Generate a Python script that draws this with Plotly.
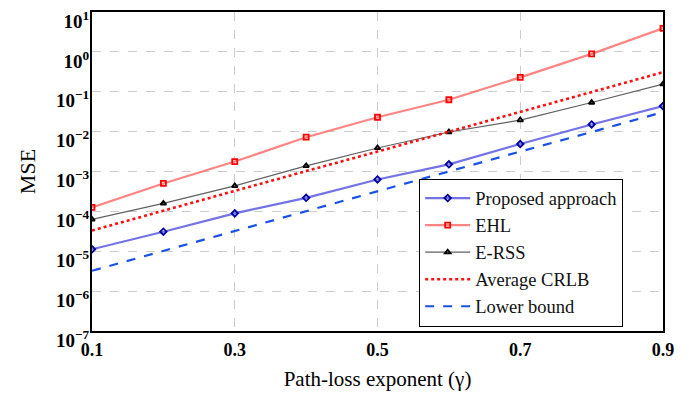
import plotly.graph_objects as go

gamma = [0.1, 0.2, 0.3, 0.4, 0.5, 0.6, 0.7, 0.8, 0.9]
# log10(MSE) values
log_proposed = [-4.95, -4.51, -4.05, -3.66, -3.20, -2.82, -2.31, -1.82, -1.36]
log_ehl = [-3.90, -3.30, -2.75, -2.14, -1.64, -1.20, -0.64, -0.05, 0.59]
log_erss = [-4.20, -3.80, -3.36, -2.86, -2.41, -2.01, -1.71, -1.27, -0.81]
log_crlb = [-4.48, -3.98, -3.49, -2.99, -2.50, -2.00, -1.50, -1.01, -0.51]
log_lower = [-5.49, -4.99, -4.50, -4.00, -3.50, -3.00, -2.50, -2.01, -1.51]

x_ticks = [0.1, 0.3, 0.5, 0.7, 0.9]
y_exps = [-7, -6, -5, -4, -3, -2, -1, 0, 1]

def tp(v):
    return [10 ** a for a in v]

FONT = "Liberation Serif, Times New Roman, serif"

fig = go.Figure()
fig.add_trace(go.Scatter(
    x=gamma, y=tp(log_proposed), name="Proposed approach", mode="lines+markers",
    line=dict(color="rgba(90,90,225,0.85)", width=2.2),
    marker=dict(symbol="diamond-open", size=5, color="#0000a0", line=dict(width=1.8, color="#0000a0"))))
fig.add_trace(go.Scatter(
    x=gamma, y=tp(log_ehl), name="EHL", mode="lines+markers",
    line=dict(color="rgba(255,110,110,0.85)", width=2.2),
    marker=dict(symbol="square-open", size=5, color="#ff0000", line=dict(width=1.8, color="#ff0000"))))
fig.add_trace(go.Scatter(
    x=gamma, y=tp(log_erss), name="E-RSS", mode="lines+markers",
    line=dict(color="#606060", width=1.2),
    marker=dict(symbol="triangle-up-open", size=5, color="#000000", line=dict(width=1.8, color="#000000"))))
fig.add_trace(go.Scatter(
    x=gamma, y=tp(log_crlb), name="Average CRLB", mode="lines",
    line=dict(color="#ff1010", width=2.6, dash="dot")))
fig.add_trace(go.Scatter(
    x=gamma, y=tp(log_lower), name="Lower bound", mode="lines",
    line=dict(color="#1a50e6", width=2.2, dash="dash")))

fig.update_layout(
    width=691, height=403,
    margin=dict(l=92, r=28, t=8, b=72),
    paper_bgcolor="white", plot_bgcolor="white",
    font=dict(family=FONT, color="black"),
    showlegend=True,
    legend=dict(
        x=0.573, y=0.014, xanchor="left", yanchor="bottom",
        bgcolor="white", bordercolor="black", borderwidth=1,
        font=dict(family=FONT, size=18.5, color="#111111"),
        tracegroupgap=0, itemwidth=45,
    ),
    xaxis=dict(
        range=[0.1, 0.9], tickvals=x_ticks, ticktext=[f"{v:.1f}" for v in x_ticks],
        showgrid=True, gridcolor="#cccccc", griddash="dash", gridwidth=1,
        showline=True, linecolor="black", linewidth=1.5, mirror=True,
        ticks="", zeroline=False, ticklabelstandoff=2,
        tickfont=dict(family=FONT, size=18, weight="bold"),
        title=dict(text="Path-loss exponent (γ)", font=dict(family=FONT, size=21), standoff=12),
    ),
    yaxis=dict(
        type="log", range=[-7, 1],
        tickvals=[10 ** e for e in y_exps],
        ticktext=[f"10<sup>{'−' if e < 0 else ''}{abs(e)}</sup>" for e in y_exps],
        showgrid=True, gridcolor="#cccccc", griddash="dash", gridwidth=1,
        showline=True, linecolor="black", linewidth=2, mirror=True,
        ticks="", zeroline=False, ticklabelshift=9, ticklabelstandoff=-3,
        tickfont=dict(family=FONT, size=19, weight="bold"),
        title=dict(text="MSE", font=dict(family=FONT, size=22), standoff=14),
    ),
)

fig.write_html("out.html")
